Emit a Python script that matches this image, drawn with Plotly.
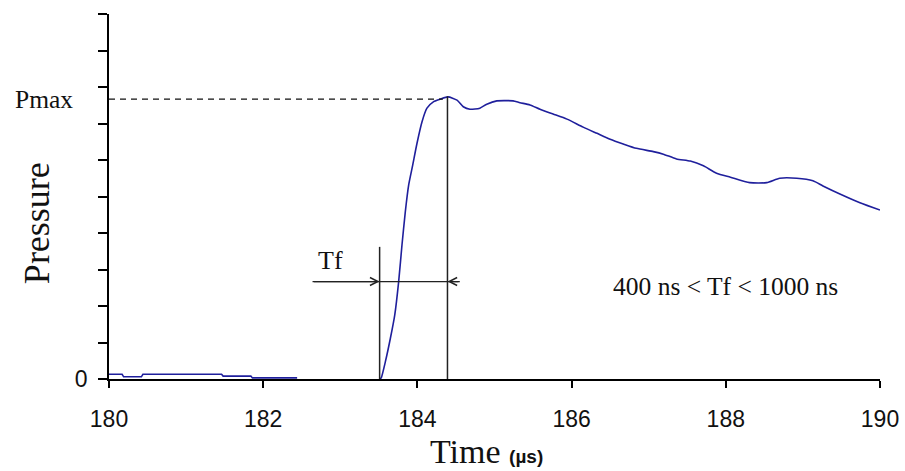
import plotly.graph_objects as go

# ---- data ----
base_time = [180.0, 180.17, 180.19, 180.42, 180.44, 181.46, 181.48, 181.84, 181.86, 182.44]
base_pressure = [0.13, 0.13, 0.06, 0.06, 0.13, 0.13, 0.08, 0.08, 0.03, 0.03]

time_us = [183.515, 183.532, 183.584, 183.649, 183.706, 183.757, 183.80, 183.843, 183.887,
           183.939, 183.995, 184.06, 184.124, 184.211, 184.297, 184.397, 184.514, 184.595,
           184.682, 184.81, 184.90, 185.03, 185.24, 185.33, 185.46, 185.59, 185.76, 185.94,
           186.15, 186.33, 186.50, 186.67, 186.84, 187.06, 187.19, 187.36, 187.54, 187.71,
           187.88, 188.06, 188.31, 188.53, 188.70, 188.92, 189.13, 189.26, 189.48, 189.74,
           190.0]
pressure = [0.0, 0.04, 0.47, 1.11, 1.75, 2.67, 3.67, 4.58, 5.32,
            5.86, 6.46, 7.05, 7.42, 7.60, 7.67, 7.73, 7.64, 7.46,
            7.39, 7.42, 7.53, 7.62, 7.62, 7.57, 7.51, 7.39, 7.26, 7.12,
            6.90, 6.73, 6.57, 6.44, 6.32, 6.23, 6.16, 6.03, 5.97, 5.84,
            5.64, 5.53, 5.38, 5.38, 5.50, 5.50, 5.43, 5.29, 5.07, 4.83,
            4.63]

x_ticks = [180, 182, 184, 186, 188, 190]
y_ticks = list(range(0, 11))
y_ticktext = ["0"] + [""] * 10

P_MAX = 7.67          # level of the Pmax dashed line
T_START = 183.51      # start of the rise (left marker)
T_PEAK = 184.39       # time of Pmax (right marker)
T_PEAK_END = 184.33   # where the dashed line meets the curve
P_PEAK = 7.75
P_START_MARK = 3.62   # height of the left marker line
P_TF = 2.67           # level of the Tf dimension line
TF_LEFT = 182.64
TF_RIGHT = 184.55

SERIF = "Liberation Serif, Times New Roman, serif"
SANS = "Liberation Sans, Arial, sans-serif"
INK = "#111111"
BLUE = "#1f1f9c"

fig = go.Figure()
fig.add_trace(go.Scatter(x=base_time, y=base_pressure, mode="lines",
                         line=dict(color=BLUE, width=1.6),
                         showlegend=False, hoverinfo="skip"))
fig.add_trace(go.Scatter(x=time_us, y=pressure, mode="lines",
                         line=dict(color=BLUE, width=1.6, shape="spline", smoothing=0.6),
                         showlegend=False, hoverinfo="skip"))

# Pmax dashed line
fig.add_shape(type="line", xref="x", yref="y", x0=180, x1=T_PEAK_END, y0=P_MAX, y1=P_MAX,
              line=dict(color=INK, width=1.3, dash="6px,5px"))
# marker verticals
fig.add_shape(type="line", xref="x", yref="y", x0=T_PEAK, x1=T_PEAK, y0=0, y1=P_PEAK,
              line=dict(color="#222222", width=1.5))
fig.add_shape(type="line", xref="x", yref="y", x0=T_START, x1=T_START, y0=0, y1=P_START_MARK,
              line=dict(color="#222222", width=1.5))
# Tf dimension line
fig.add_shape(type="line", xref="x", yref="y", x0=TF_LEFT, x1=TF_RIGHT, y0=P_TF, y1=P_TF,
              line=dict(color="#222222", width=1.3))
fig.add_annotation(x=T_START, y=P_TF, ax=TF_LEFT, ay=P_TF, xref="x", yref="y",
                   axref="x", ayref="y", text="", showarrow=True, arrowhead=5,
                   arrowsize=1.3, arrowwidth=1.2, arrowcolor="#222222")
fig.add_annotation(x=T_PEAK, y=P_TF, ax=TF_RIGHT, ay=P_TF, xref="x", yref="y",
                   axref="x", ayref="y", text="", showarrow=True, arrowhead=5,
                   arrowsize=1.3, arrowwidth=1.2, arrowcolor="#222222")

# texts
fig.add_annotation(x=182.87, y=3.26, xref="x", yref="y", text="Tf", showarrow=False,
                   font=dict(family=SERIF, size=26, color=INK))
fig.add_annotation(x=187.99, y=2.53, xref="x", yref="y", text="400 ns &lt; Tf &lt; 1000 ns",
                   showarrow=False, font=dict(family=SERIF, size=25.5, color=INK))
fig.add_annotation(x=0, y=P_MAX, xref="paper", yref="y", text="Pmax", showarrow=False,
                   xanchor="right", xshift=-34, font=dict(family=SERIF, size=25.5, color=INK))
fig.add_annotation(x=0, y=0.427, xref="paper", yref="paper", text="Pressure", showarrow=False,
                   textangle=-90, xanchor="center", xshift=-72,
                   font=dict(family=SERIF, size=36, color=INK))
fig.add_annotation(x=0.49, y=0, xref="paper", yref="paper",
                   text="Time <b><span style='font-family:Liberation Sans, Arial;font-size:19px'>(µs)</span></b>",
                   showarrow=False, yanchor="middle", yshift=-72,
                   font=dict(family=SERIF, size=34, color=INK))

fig.update_layout(
    width=905, height=471,
    margin=dict(l=109, r=25, t=14, b=92, autoexpand=False),
    paper_bgcolor="white", plot_bgcolor="white",
    xaxis=dict(range=[180, 190], tickvals=x_ticks, ticktext=[str(v) for v in x_ticks],
               showgrid=False, zeroline=False, showline=True, linecolor="black", linewidth=1.5,
               ticks="outside", ticklen=7, tickwidth=1.5, tickcolor="black",
               ticklabelstandoff=12,
               tickfont=dict(family=SANS, size=23, color=INK), fixedrange=True),
    yaxis=dict(range=[0, 10], tickvals=y_ticks, ticktext=y_ticktext,
               showgrid=False, zeroline=False, showline=True, linecolor="black", linewidth=1.5,
               ticks="outside", ticklen=9, tickwidth=1.5, tickcolor="black",
               ticklabelstandoff=6,
               tickfont=dict(family=SANS, size=23, color=INK), fixedrange=True),
)

fig.write_html("out.html", config={"displayModeBar": False},
               post_script="document.body.style.margin='0';")
